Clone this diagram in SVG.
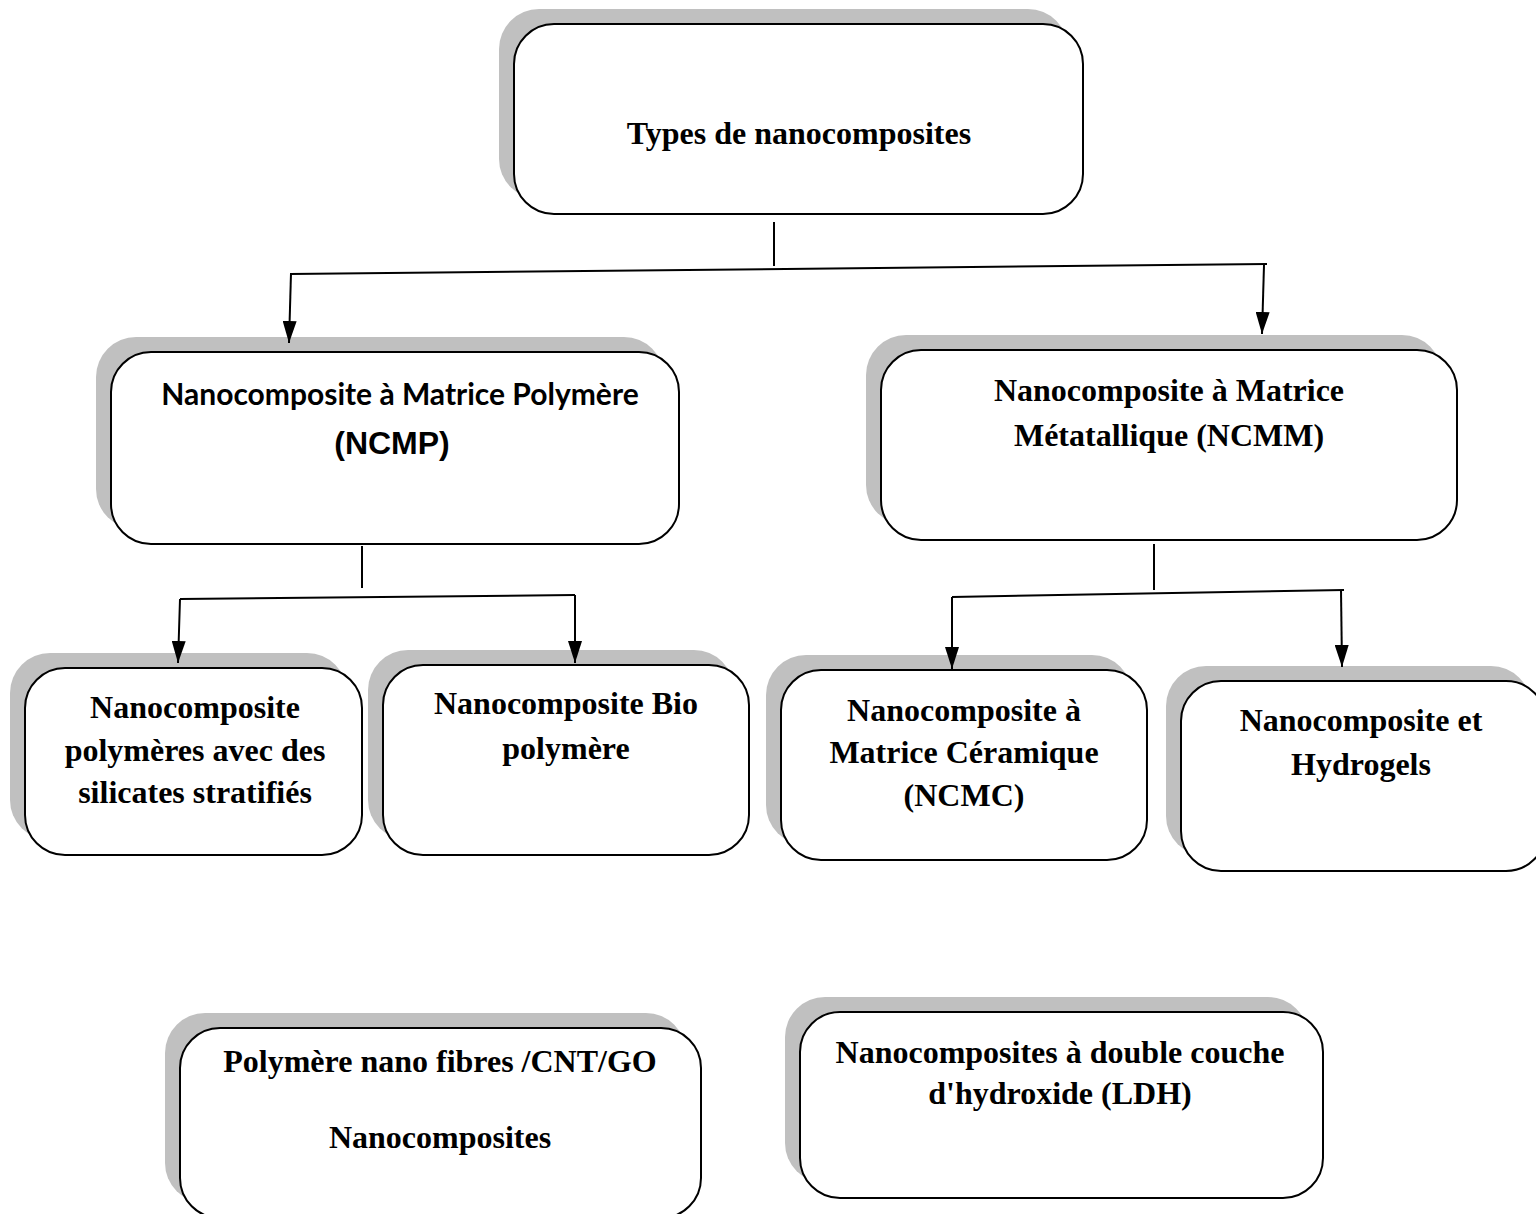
<svg xmlns="http://www.w3.org/2000/svg" width="1536" height="1214" viewBox="0 0 1536 1214">
<style>
.sh{fill:#c0c0c0;stroke:none}
.bx{fill:#ffffff;stroke:#000;stroke-width:2}
.t{font-family:"Liberation Serif","Times New Roman",serif;font-weight:bold;font-size:32px;fill:#000;text-anchor:middle}
.s{font-family:Lato,"Liberation Sans",sans-serif;font-weight:bold;font-size:30px;fill:#000;text-anchor:middle}
.a{font-family:"Liberation Sans",Arial,sans-serif;font-weight:bold;font-size:32px;fill:#000;text-anchor:middle}
.c{fill:none;stroke:#000;stroke-width:2}
</style>
<defs>
<marker id="ah" viewBox="0 0 22 14" refX="22" refY="7" markerWidth="22" markerHeight="14" markerUnits="userSpaceOnUse" orient="auto">
<path d="M0,0 L22,7 L0,14 z" fill="#000"/>
</marker>
</defs>
<rect width="1536" height="1214" fill="#fff"/>

<g id="top">
<rect class="sh" x="499" y="9" width="569" height="190" rx="40"/>
<rect class="bx" x="514" y="24" width="569" height="190" rx="40"/>
<text class="t" x="799" y="144">Types de nanocomposites</text>
</g>

<g id="ncmp">
<rect class="sh" x="96" y="337" width="568" height="192" rx="40"/>
<rect class="bx" x="111" y="352" width="568" height="192" rx="40"/>
<text class="s" x="400" y="405">Nanocomposite à Matrice Polymère</text>
<text class="a" x="392" y="454">(NCMP)</text>
</g>

<g id="ncmm">
<rect class="sh" x="866" y="335" width="576" height="190" rx="40"/>
<rect class="bx" x="881" y="350" width="576" height="190" rx="40"/>
<text class="t" x="1169" y="401">Nanocomposite à Matrice</text>
<text class="t" x="1169" y="446">Métatallique (NCMM)</text>
</g>

<g id="silicates">
<rect class="sh" x="10" y="653" width="337" height="187" rx="40"/>
<rect class="bx" x="25" y="668" width="337" height="187" rx="40"/>
<text class="t" x="195" y="718">Nanocomposite</text>
<text class="t" x="195" y="761">polymères avec des</text>
<text class="t" x="195" y="803">silicates stratifiés</text>
</g>

<g id="bio">
<rect class="sh" x="368" y="650" width="366" height="190" rx="40"/>
<rect class="bx" x="383" y="665" width="366" height="190" rx="40"/>
<text class="t" x="566" y="714">Nanocomposite Bio</text>
<text class="t" x="566" y="759">polymère</text>
</g>

<g id="ncmc">
<rect class="sh" x="766" y="655" width="366" height="190" rx="40"/>
<rect class="bx" x="781" y="670" width="366" height="190" rx="40"/>
<text class="t" x="964" y="721">Nanocomposite à</text>
<text class="t" x="964" y="763">Matrice Céramique</text>
<text class="t" x="964" y="806">(NCMC)</text>
</g>

<g id="hydrogels">
<rect class="sh" x="1166" y="666" width="365" height="190" rx="40"/>
<rect class="bx" x="1181" y="681" width="365" height="190" rx="40"/>
<text class="t" x="1361" y="731">Nanocomposite et</text>
<text class="t" x="1361" y="775">Hydrogels</text>
</g>

<g id="fibres">
<rect class="sh" x="165" y="1013" width="521" height="190" rx="40"/>
<rect class="bx" x="180" y="1028" width="521" height="190" rx="40"/>
<text class="t" x="440" y="1072">Polymère nano fibres /CNT/GO</text>
<text class="t" x="440" y="1148">Nanocomposites</text>
</g>

<g id="ldh">
<rect class="sh" x="785" y="997" width="523" height="186" rx="40"/>
<rect class="bx" x="800" y="1012" width="523" height="186" rx="40"/>
<text class="t" x="1060" y="1063">Nanocomposites à double couche</text>
<text class="t" x="1060" y="1104">d'hydroxide (LDH)</text>
</g>

<g id="connectors">
<path class="c" d="M774,222 V266"/>
<path class="c" d="M290,274 L1267,264"/>
<path class="c" d="M291,273 L289,343" marker-end="url(#ah)"/>
<path class="c" d="M1264,265 L1262,334" marker-end="url(#ah)"/>
<path class="c" d="M362,546 V588"/>
<path class="c" d="M180,599 L575,595"/>
<path class="c" d="M180,599 L178,663" marker-end="url(#ah)"/>
<path class="c" d="M575,595 L575,663" marker-end="url(#ah)"/>
<path class="c" d="M1154,544 V590"/>
<path class="c" d="M952,597 L1344,590"/>
<path class="c" d="M952,597 L952,669" marker-end="url(#ah)"/>
<path class="c" d="M1341,590 L1342,667" marker-end="url(#ah)"/>
</g>
</svg>
